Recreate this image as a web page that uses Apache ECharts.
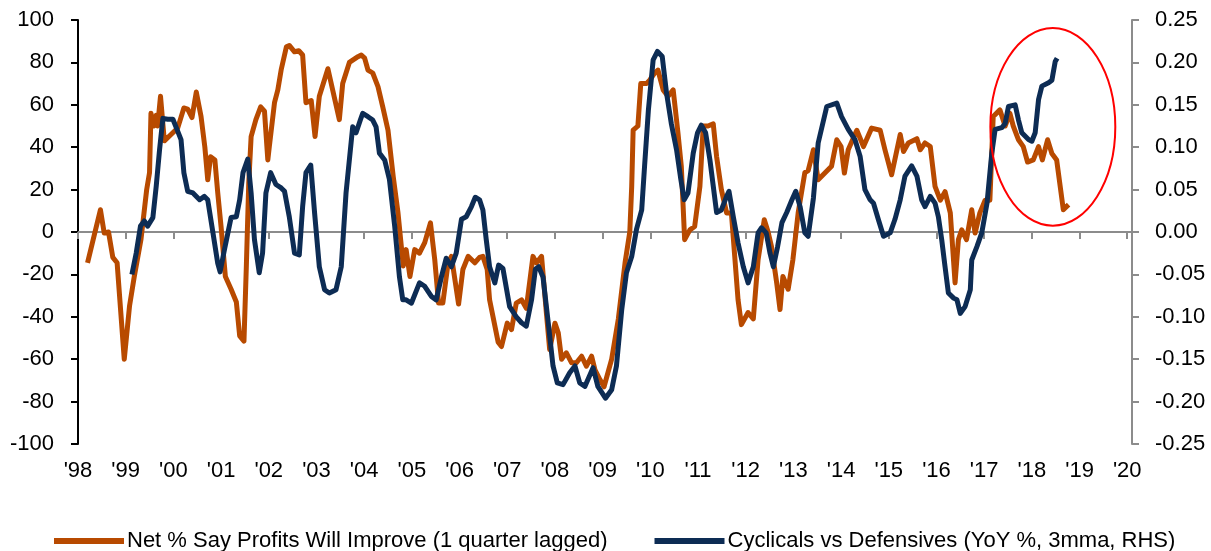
<!DOCTYPE html>
<html>
<head>
<meta charset="utf-8">
<script src="https://cdn.jsdelivr.net/npm/echarts@6/dist/echarts.min.js"></script>
<style>
  html, body { margin: 0; padding: 0; background: #fff; }
  #chart { width: 1211px; height: 551px; }
</style>
</head>
<body>
<div id="chart"></div>
<script>
// Net % say profits will improve (1 quarter lagged), left axis
var profitYears = [
  1998.20, 1998.47, 1998.55, 1998.64, 1998.73, 1998.82, 1998.97, 1999.08, 1999.18, 1999.32,
  1999.44, 1999.50, 1999.53, 1999.59, 1999.64, 1999.67, 1999.73, 1999.81, 1999.95, 2000.09,
  2000.22, 2000.30, 2000.39, 2000.48, 2000.58, 2000.66, 2000.72, 2000.78, 2000.87, 2000.93,
  2001.00, 2001.09, 2001.21, 2001.32, 2001.39, 2001.48, 2001.53, 2001.58, 2001.63, 2001.73,
  2001.83, 2001.91, 2001.98, 2002.01, 2002.12, 2002.19, 2002.26, 2002.37, 2002.43, 2002.54,
  2002.63, 2002.71, 2002.78, 2002.89, 2002.97, 2003.06, 2003.24, 2003.34, 2003.48, 2003.55,
  2003.69, 2003.87, 2003.94, 2004.01, 2004.08, 2004.18, 2004.29, 2004.39, 2004.50, 2004.61,
  2004.71, 2004.82, 2004.88, 2004.96, 2005.06, 2005.16, 2005.27, 2005.39, 2005.48, 2005.56,
  2005.65, 2005.76, 2005.83, 2005.98, 2006.07, 2006.18, 2006.32, 2006.42, 2006.49, 2006.58,
  2006.63, 2006.81, 2006.88, 2007.00, 2007.09, 2007.19, 2007.30, 2007.40, 2007.54, 2007.61,
  2007.72, 2007.82, 2007.89, 2008.00, 2008.07, 2008.14, 2008.24, 2008.35, 2008.45, 2008.56,
  2008.66, 2008.77, 2008.84, 2008.94, 2009.03, 2009.19, 2009.33, 2009.47, 2009.57, 2009.61,
  2009.64, 2009.74, 2009.80, 2009.92, 2009.99, 2010.09, 2010.16, 2010.27, 2010.37, 2010.48,
  2010.58, 2010.65, 2010.72, 2010.83, 2010.93, 2011.04, 2011.11, 2011.21, 2011.32, 2011.39,
  2011.49, 2011.60, 2011.70, 2011.77, 2011.84, 2011.91, 2012.05, 2012.16, 2012.26, 2012.39,
  2012.47, 2012.54, 2012.65, 2012.72, 2012.78, 2012.89, 2012.99, 2013.10, 2013.24, 2013.31,
  2013.42, 2013.52, 2013.66, 2013.80, 2013.91, 2014.00, 2014.07, 2014.15, 2014.33, 2014.47,
  2014.64, 2014.82, 2014.92, 2015.06, 2015.24, 2015.31, 2015.41, 2015.59, 2015.66, 2015.76,
  2015.87, 2015.97, 2016.08, 2016.18, 2016.29, 2016.39, 2016.46, 2016.53, 2016.63, 2016.74,
  2016.81, 2016.91, 2017.02, 2017.12, 2017.19, 2017.33, 2017.44, 2017.54, 2017.61, 2017.72,
  2017.82, 2017.91, 2018.03, 2018.14, 2018.22, 2018.33, 2018.42, 2018.52, 2018.66, 2018.77
];
var profitValues = [
  -14.6, 10.5, -0.5, 0, -12, -14.5, -60, -35, -21, -3.6,
  20, 28, 56, 50, 55, 50, 64, 43, 46, 49,
  58.5, 58, 54, 66, 54.5, 40, 24.6, 35.5, 34, 18.5,
  2.5, -21, -27, -33, -49, -51.5, -16, 23, 45, 53,
  59, 57, 34, 40, 61, 67, 76.5, 87.4, 88, 85,
  85.5, 83.5, 61, 62, 45, 64, 77, 67, 53, 70,
  80, 82.7, 83.5, 82, 76.4, 75, 68.6, 59, 48, 26,
  9, -16, -8.3, -21, -8.3, -10, -5, 4.3, -13, -33.5,
  -33.5, -14.6, -11.5, -34, -17.7, -11.5, -14.5, -12, -11.5, -17.7,
  -32, -52, -54, -43, -46, -33.5, -32, -36, -11.5, -14.6,
  -11.5, -38, -55.4, -43, -47.6, -60, -57, -61.7, -61.7, -58.6,
  -63.3, -58.6, -65, -69.5, -73, -60, -41, -14.6, 0, 21.5,
  48, 50, 70, 70, 71.7, 75, 76.4, 67, 64, 67,
  46.7, 31, -3.6, 1, 2.6, 21.5, 50, 50, 51, 35.6,
  20, 9, 9, -11.5, -32, -43.7, -38, -41, -13, 5.8,
  0, -6.8, -24, -36.6, -21, -27, -13, 9, 28, 29,
  38.8, 24.6, 27.8, 31, 43.5, 40.3, 27.8, 38.8, 48, 40.3,
  49, 48, 38.8, 27, 46, 38, 42, 44, 38.8, 42,
  40.3, 21.5, 15, 19, 9, -24, -3.6, 1, -3.6, 10.5,
  -0.5, 9, 15, 15, 54.5, 57.6, 50, 56, 50, 43.5,
  40.3, 33, 34, 40.3, 34, 43.5, 37, 34, 10.5, 12.9
];

// Cyclicals vs Defensives (YoY %, 3mma), right axis
var cyclYears = [
  1999.13, 1999.22, 1999.31, 1999.39, 1999.46, 1999.57, 1999.64, 1999.71, 1999.78, 1999.88,
  1999.99, 2000.09, 2000.16, 2000.22, 2000.30, 2000.41, 2000.55, 2000.65, 2000.72, 2000.83,
  2000.93, 2000.98, 2001.07, 2001.21, 2001.32, 2001.39, 2001.46, 2001.56, 2001.63, 2001.70,
  2001.80, 2001.87, 2001.94, 2002.04, 2002.15, 2002.26, 2002.33, 2002.43, 2002.54, 2002.64,
  2002.71, 2002.78, 2002.88, 2002.96, 2003.06, 2003.17, 2003.27, 2003.41, 2003.52, 2003.62,
  2003.76, 2003.83, 2003.92, 2003.97, 2004.08, 2004.18, 2004.25, 2004.32, 2004.43, 2004.53,
  2004.64, 2004.74, 2004.81, 2004.88, 2004.99, 2005.16, 2005.27, 2005.41, 2005.51, 2005.62,
  2005.72, 2005.83, 2005.93, 2006.04, 2006.14, 2006.25, 2006.33, 2006.42, 2006.49, 2006.56,
  2006.63, 2006.74, 2006.82, 2006.91, 2007.05, 2007.19, 2007.30, 2007.40, 2007.51, 2007.59,
  2007.66, 2007.75, 2007.86, 2007.96, 2008.05, 2008.17, 2008.31, 2008.42, 2008.52, 2008.63,
  2008.80, 2008.90, 2009.06, 2009.19, 2009.29, 2009.40, 2009.50, 2009.61, 2009.71, 2009.82,
  2009.88, 2009.96, 2010.06, 2010.15, 2010.25, 2010.34, 2010.44, 2010.55, 2010.64, 2010.71,
  2010.79, 2010.90, 2010.99, 2011.07, 2011.16, 2011.25, 2011.39, 2011.49, 2011.60, 2011.65,
  2011.74, 2011.84, 2011.95, 2012.05, 2012.16, 2012.26, 2012.33, 2012.43, 2012.51, 2012.58,
  2012.67, 2012.76, 2012.86, 2012.97, 2013.05, 2013.14, 2013.24, 2013.31, 2013.42, 2013.52,
  2013.70, 2013.91, 2014.01, 2014.15, 2014.29, 2014.40, 2014.50, 2014.61, 2014.68, 2014.78,
  2014.89, 2015.03, 2015.13, 2015.24, 2015.34, 2015.48, 2015.59, 2015.69, 2015.76, 2015.87,
  2015.97, 2016.04, 2016.11, 2016.18, 2016.25, 2016.36, 2016.43, 2016.50, 2016.60, 2016.71,
  2016.74, 2016.85, 2016.95, 2017.06, 2017.16, 2017.23, 2017.37, 2017.44, 2017.51, 2017.65,
  2017.72, 2017.79, 2017.93, 2018.00, 2018.07, 2018.14, 2018.21, 2018.35, 2018.42, 2018.49,
  2018.53
];
var cyclValues = [
  -0.050, -0.025, 0.007, 0.013, 0.007, 0.017, 0.054, 0.097, 0.134, 0.133,
  0.133, 0.119, 0.109, 0.070, 0.048, 0.046, 0.038, 0.042, 0.038, -0.001,
  -0.037, -0.047, -0.021, 0.017, 0.018, 0.038, 0.070, 0.086, 0.046, -0.009,
  -0.048, -0.025, 0.046, 0.070, 0.056, 0.052, 0.048, 0.018, -0.025, -0.027,
  0.030, 0.070, 0.079, 0.023, -0.041, -0.068, -0.072, -0.068, -0.041, 0.046,
  0.124, 0.117, 0.132, 0.140, 0.136, 0.132, 0.124, 0.093, 0.085, 0.062,
  0.007, -0.053, -0.080, -0.080, -0.084, -0.060, -0.064, -0.076, -0.080, -0.053,
  -0.031, -0.041, -0.025, 0.015, 0.018, 0.030, 0.041, 0.038, 0.026, -0.009,
  -0.041, -0.060, -0.039, -0.043, -0.088, -0.100, -0.107, -0.111, -0.080, -0.044,
  -0.041, -0.053, -0.107, -0.158, -0.178, -0.180, -0.166, -0.158, -0.178, -0.182,
  -0.160, -0.182, -0.196, -0.186, -0.158, -0.092, -0.048, -0.029, 0.003, 0.026,
  0.078, 0.144, 0.203, 0.213, 0.207, 0.164, 0.128, 0.097, 0.062, 0.038,
  0.046, 0.093, 0.117, 0.126, 0.117, 0.085, 0.023, 0.026, 0.042, 0.048,
  0.018, -0.013, -0.041, -0.060, -0.041, -0.001, 0.005, -0.001, -0.025, -0.041,
  -0.017, 0.011, 0.023, 0.038, 0.048, 0.030, -0.001, -0.005, 0.040, 0.105,
  0.148, 0.152, 0.136, 0.121, 0.109, 0.089, 0.050, 0.038, 0.034, 0.015,
  -0.005, -0.001, 0.015, 0.038, 0.066, 0.078, 0.066, 0.038, 0.030, 0.042,
  0.034, 0.018, -0.009, -0.041, -0.072, -0.078, -0.080, -0.096, -0.088, -0.068,
  -0.033, -0.017, -0.001, 0.034, 0.093, 0.121, 0.123, 0.128, 0.148, 0.150,
  0.132, 0.117, 0.109, 0.107, 0.117, 0.156, 0.172, 0.176, 0.179, 0.201,
  0.205
];

var seriesNames = [
  'Net % Say Profits Will Improve (1 quarter lagged)',
  'Cyclicals vs Defensives (YoY %, 3mma, RHS)'
];

// highlighted region (centre in data units, radii in data units)
var circleCentre = [2018.44, 0.124];
var circleRadius = [1.31, 0.1165];

function pairs(xs, ys) {
  return xs.map(function (x, i) { return [x, ys[i]]; });
}

function yearLabel(v) {
  var r = Math.round(v);
  return Math.abs(v - r) < 1e-6 ? "'" + String(r).slice(2) : '';
}

var font = 'Liberation Sans, Arial, sans-serif';
var chart = echarts.init(document.getElementById('chart'));

var option = {
  animation: false,
  backgroundColor: '#fff',
  textStyle: { fontFamily: font },
  grid: {
    left: 78, right: 79, top: 20, bottom: 107,
    containLabel: false, outerBoundsMode: 'none'
  },
  legend: {
    data: seriesNames,
    left: 54,
    top: 530,
    icon: 'rect',
    itemWidth: 70,
    itemHeight: 6,
    itemGap: 47,
    padding: 0,
    textStyle: { fontSize: 22, color: '#000', fontFamily: font, padding: [0, 0, 0, -2] }
  },
  xAxis: [
    {
      // year labels along the bottom
      type: 'value',
      position: 'bottom',
      min: 1998,
      max: 2020.1,
      interval: 1,
      axisLine: { show: false, onZero: false },
      axisTick: { show: false },
      axisLabel: { margin: 16, fontSize: 22, color: '#000', formatter: yearLabel },
      splitLine: { show: false }
    },
    {
      // grey zero line with year ticks
      type: 'value',
      position: 'top',
      min: 1998,
      max: 2020.1,
      interval: 1,
      axisLine: { show: true, onZero: true, lineStyle: { color: '#8c8c8c', width: 2 } },
      axisTick: { show: true, inside: true, length: 7, lineStyle: { color: '#8c8c8c', width: 2 } },
      axisLabel: { show: false },
      splitLine: { show: false }
    }
  ],
  yAxis: [
    {
      type: 'value',
      position: 'left',
      min: -100,
      max: 100,
      interval: 20,
      axisLine: { show: true, lineStyle: { color: '#000', width: 2 } },
      axisTick: { show: true, length: 7, lineStyle: { color: '#000', width: 2 } },
      axisLabel: { margin: 24, fontSize: 22, color: '#000' },
      splitLine: { show: false }
    },
    {
      type: 'value',
      position: 'right',
      min: -0.25,
      max: 0.25,
      interval: 0.05,
      axisLine: { show: true, lineStyle: { color: '#8c8c8c', width: 2 } },
      axisTick: { show: true, length: 7, lineStyle: { color: '#8c8c8c', width: 2 } },
      axisLabel: {
        margin: 23,
        fontSize: 22,
        color: '#000',
        formatter: function (v) {
          return Math.abs(v) < 1e-9 ? '0.00' : v.toFixed(2);
        }
      },
      splitLine: { show: false }
    }
  ],
  series: [
    {
      name: seriesNames[0],
      type: 'line',
      xAxisIndex: 0,
      yAxisIndex: 0,
      showSymbol: false,
      color: '#b84a00',
      lineStyle: { width: 5, color: '#b84a00', join: 'round' },
      data: pairs(profitYears, profitValues)
    },
    {
      name: seriesNames[1],
      type: 'line',
      xAxisIndex: 0,
      yAxisIndex: 1,
      showSymbol: false,
      color: '#0d2c54',
      lineStyle: { width: 5, color: '#0d2c54', join: 'round' },
      data: pairs(cyclYears, cyclValues)
    }
  ]
};

chart.setOption(option);

// red ellipse around the latest readings, placed through the axes
var c = chart.convertToPixel({ xAxisIndex: 0, yAxisIndex: 1 }, circleCentre);
var e = chart.convertToPixel({ xAxisIndex: 0, yAxisIndex: 1 },
  [circleCentre[0] + circleRadius[0], circleCentre[1] + circleRadius[1]]);
chart.setOption({
  graphic: [{
    type: 'ellipse',
    shape: { cx: c[0], cy: c[1], rx: Math.abs(e[0] - c[0]), ry: Math.abs(c[1] - e[1]) },
    style: { fill: null, stroke: '#ff0000', lineWidth: 2 },
    z: 100
  }]
});
</script>
</body>
</html>
